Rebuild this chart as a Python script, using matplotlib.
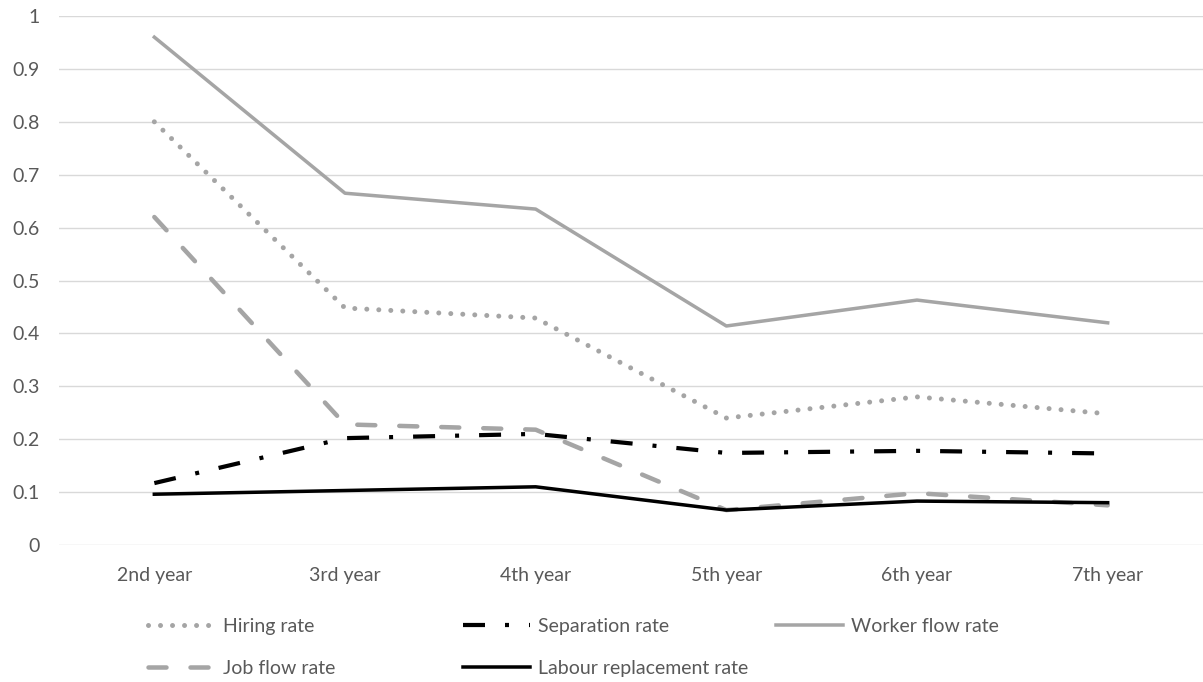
import matplotlib.pyplot as plt
import numpy as np

plt.rcParams['font.family'] = ['Lato', 'DejaVu Sans']
plt.rcParams['lines.scale_dashes'] = False

years = ["2nd year", "3rd year", "4th year", "5th year", "6th year", "7th year"]
hiring = [0.80, 0.448, 0.429, 0.240, 0.280, 0.248]
separation = [0.117, 0.202, 0.210, 0.174, 0.178, 0.173]
worker_flow = [0.960, 0.665, 0.635, 0.414, 0.463, 0.420]
job_flow = [0.620, 0.228, 0.218, 0.066, 0.098, 0.075]
labour_repl = [0.096, 0.103, 0.110, 0.066, 0.083, 0.080]
ytick_labels = ["0", "0.1", "0.2", "0.3", "0.4", "0.5", "0.6", "0.7", "0.8", "0.9", "1"]

grey = "#A5A5A5"
txt = "#595959"
px = 0.72  # points per pixel at dpi 100
fs = 14

fig = plt.figure(figsize=(12.03, 6.82), dpi=100)
ax = fig.add_axes([59 / 1203, 1 - 545 / 682, 1 - 59 / 1203, (545 - 16) / 682])

x = np.arange(len(years))
h_hire, = ax.plot(x, hiring, color=grey, lw=5 * px, dashes=(0.01, 12 * px),
                  dash_capstyle='round', label="Hiring rate")
h_sep, = ax.plot(x, separation, color="black", lw=4.2 * px,
                 dashes=(22 * px, 20 * px, 4 * px, 20 * px),
                 dash_capstyle='butt', label="Separation rate")
h_work, = ax.plot(x, worker_flow, color=grey, lw=3.5 * px,
                  solid_joinstyle='round', label="Worker flow rate")
h_job, = ax.plot(x, job_flow, color=grey, lw=4.5 * px, dashes=(18 * px, 24 * px),
                 dash_capstyle='round', label="Job flow rate")
h_lab, = ax.plot(x, labour_repl, color="black", lw=3.5 * px,
                 solid_joinstyle='round', label="Labour replacement rate")

ax.set_xlim(-0.5, len(years) - 0.5)
ax.set_ylim(0, 1)
ax.set_yticks(np.arange(0, 1.01, 0.1))
ax.set_yticklabels(ytick_labels)
ax.set_xticks(x)
ax.set_xticklabels(years)
ax.tick_params(length=0, labelsize=fs, labelcolor=txt)
ax.tick_params(axis='x', pad=16)
ax.tick_params(axis='y', pad=14)
ax.grid(axis='y', color="#D9D9D9", lw=1)
ax.set_axisbelow(True)
for s in ax.spines.values():
    s.set_visible(False)

# legend in three columns, two rows
cols = [([h_hire, h_job], 148), ([h_sep, h_lab], 463), ([h_work], 776)]
for handles, xpix in cols:
    fig.legend(handles=handles, loc='upper left',
               bbox_to_anchor=(xpix / 1203, 1 - 618 / 682),
               frameon=False, fontsize=fs, labelcolor=txt,
               handlelength=3.45, handletextpad=0.4, labelspacing=1.3,
               borderpad=0, borderaxespad=0)

fig.savefig("out.png", dpi=100)
